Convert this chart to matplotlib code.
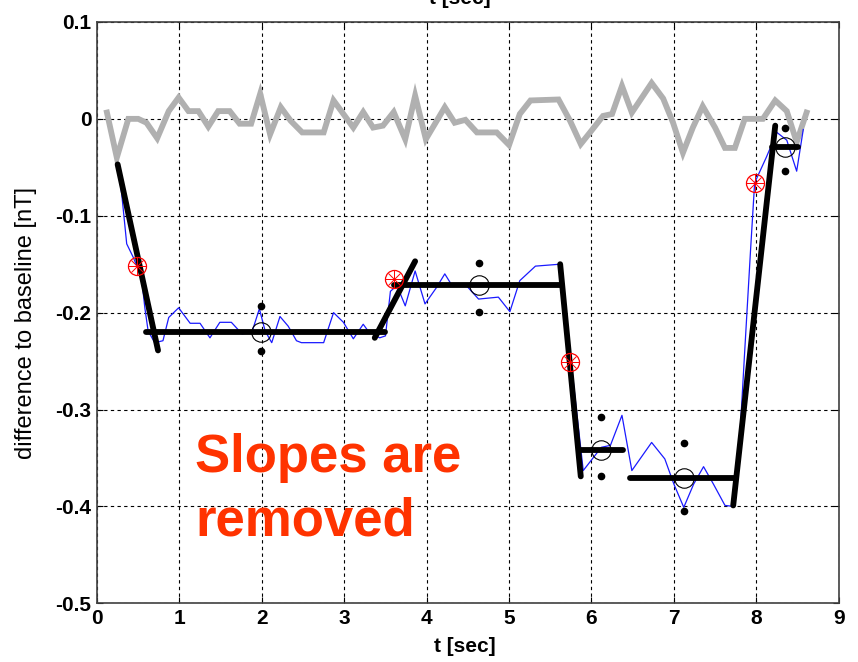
import numpy as np
import matplotlib
matplotlib.use("Agg")
import matplotlib.pyplot as plt

# raw (gray) signal
raw_t = [0.12, 0.24, 0.38, 0.5, 0.6, 0.73, 0.87, 0.99, 1.11, 1.23, 1.35, 1.47, 1.61, 1.73, 1.87,
         1.98, 2.1, 2.23, 2.35, 2.49, 2.62, 2.75, 2.87, 2.99, 3.11, 3.23, 3.35, 3.47, 3.6, 3.74,
         3.86, 3.99, 4.22, 4.34, 4.47, 4.61, 4.85, 5.0, 5.13, 5.26, 5.6, 5.74, 5.87, 6.02, 6.14,
         6.25, 6.37, 6.49, 6.73, 6.87, 6.99, 7.11, 7.23, 7.35, 7.5, 7.62, 7.74, 7.86, 8.08, 8.23,
         8.37, 8.49, 8.61]
raw_y = [0.0065, -0.04, 0, 0, -0.004, -0.02, 0.008, 0.022, 0.008, 0.008, -0.008, 0.008, 0.008,
         -0.005, -0.005, 0.026, -0.016, 0.012, -0.002, -0.014, -0.014, -0.014, 0.019, 0.005,
         -0.009, 0.007, -0.009, -0.007, 0.007, -0.021, 0.024, -0.021, 0.012, -0.004, -0.001,
         -0.014, -0.014, -0.027, 0.005, 0.019, 0.02, -0.002, -0.026, -0.010, 0.003, 0.005, 0.034,
         0.0065, 0.037, 0.021, -0.004, -0.035, -0.009, 0.013, -0.009, -0.030, -0.030, 0, 0,
         0.019, 0.008, -0.024, 0.0065]

# blue signal (with steps)
sig_t = [0.25, 0.30, 0.36, 0.44, 0.54, 0.58, 0.62, 0.70, 0.80, 0.87, 0.99, 1.13, 1.25, 1.37,
         1.49, 1.63, 1.76, 1.88, 1.97, 2.04, 2.12, 2.22, 2.32, 2.42, 2.48, 2.75, 2.87, 2.99,
         3.11, 3.23, 3.29, 3.43, 3.5, 3.56, 3.64, 3.74, 3.86, 3.98, 4.12, 4.22, 4.30, 4.47,
         4.63, 4.87, 5.01, 5.13, 5.32, 5.62, 5.90, 6.12, 6.23, 6.37, 6.49, 6.73, 6.89, 7.0,
         7.12, 7.24, 7.36, 7.48, 7.62, 7.72, 7.80, 7.86, 7.93, 7.98, 8.12, 8.25, 8.37, 8.49,
         8.57]
sig_y = [-0.047, -0.078, -0.129, -0.143, -0.164, -0.195, -0.219, -0.231, -0.229, -0.205,
         -0.195, -0.211, -0.211, -0.226, -0.210, -0.210, -0.222, -0.220, -0.196, -0.219,
         -0.231, -0.204, -0.214, -0.229, -0.231, -0.231, -0.200, -0.210, -0.227, -0.212,
         -0.219, -0.226, -0.224, -0.178, -0.172, -0.193, -0.157, -0.191, -0.174, -0.160,
         -0.171, -0.171, -0.186, -0.184, -0.199, -0.167, -0.152, -0.150, -0.363, -0.339,
         -0.337, -0.306, -0.363, -0.334, -0.351, -0.377, -0.401, -0.377, -0.359, -0.377,
         -0.399, -0.400, -0.329, -0.239, -0.136, -0.066, -0.040, -0.014, -0.022, -0.054,
         -0.011]

# fitted segments (slopes and levels)
seg_t = [(0.25, 0.74), (0.60, 3.50), (3.37, 3.86), (3.60, 5.62), (5.62, 5.87),
         (5.85, 6.38), (6.47, 7.74), (7.72, 8.23), (8.19, 8.51)]
seg_y = [(-0.047, -0.239), (-0.220, -0.220), (-0.226, -0.147), (-0.171, -0.171),
         (-0.150, -0.369), (-0.342, -0.342), (-0.371, -0.371), (-0.399, -0.007),
         (-0.029, -0.029)]

# slope midpoints (red)
mid_t = [0.48, 3.60, 5.74, 7.98]
mid_y = [-0.152, -0.165, -0.251, -0.066]

# level means with +/- spread
lev_t = [1.99, 4.63, 6.12, 7.12, 8.35]
lev_y = [-0.220, -0.171, -0.342, -0.371, -0.029]
lev_hi = [-0.193, -0.149, -0.308, -0.335, -0.009]
lev_lo = [-0.240, -0.199, -0.369, -0.405, -0.054]

xticks = [0, 1, 2, 3, 4, 5, 6, 7, 8, 9]
yticks = [0.1, 0, -0.1, -0.2, -0.3, -0.4, -0.5]
ylabels = ["0.1", "0", "-0.1", "-0.2", "-0.3", "-0.4", "-0.5"]

plt.rcParams['font.family'] = ['Liberation Sans', 'DejaVu Sans']

fig = plt.figure(figsize=(8.58, 6.62), dpi=100)
ax = fig.add_axes([0.1131, 0.0887, 0.8644, 0.8781])

ax.plot(raw_t, raw_y, color='#b0b0b0', lw=4.2, solid_joinstyle='miter', zorder=2)
ax.plot(sig_t, sig_y, color='#1a1aff', lw=0.9, zorder=3)
for st, sy in zip(seg_t, seg_y):
    ax.plot(st, sy, color='black', lw=4.2, solid_capstyle='round', zorder=4)

ax.plot(mid_t, mid_y, 'o', ms=13, mfc='none', mec='red', mew=0.9, zorder=5)
ax.plot(mid_t, mid_y, '+', ms=13, mec='red', mew=0.7, zorder=5)
ax.plot(mid_t, mid_y, 'x', ms=9, mec='red', mew=0.7, zorder=5)

ax.plot(lev_t, lev_y, 'o', ms=14, mfc='none', mec='black', mew=0.8, zorder=5)
ax.plot(lev_t, lev_hi, 'o', ms=4.5, color='black', zorder=5)
ax.plot(lev_t, lev_lo, 'o', ms=4.5, color='black', zorder=5)

ax.set_xlim(0, 9)
ax.set_ylim(-0.5, 0.1)
ax.set_xticks(xticks)
ax.set_yticks(yticks)
ax.set_yticklabels(ylabels)
for lab in ax.get_xticklabels() + ax.get_yticklabels():
    lab.set_fontweight('bold')
    lab.set_fontsize(15)
ax.tick_params(direction='in', length=4, width=0.8, top=True, right=True, pad=4)
ax.grid(True, color='black', linestyle=(0, (3, 3)), linewidth=0.8)
for sp in ax.spines.values():
    sp.set_color('#404040')
    sp.set_linewidth(1.2)

# axis labels placed as in the reference
fig.text(465 / 858, 1 - 646 / 662, "t [sec]", fontsize=15, fontweight='bold',
         ha='center', va='center')
fig.text(26 / 858, 1 - 323 / 662, "difference to baseline [nT]", fontsize=17,
         rotation=90, ha='center', va='center')

# label of the panel above, cut by the top edge
fig.text(0.536, 1.003, "t [sec]", fontsize=15, fontweight='bold', ha='center', va='center')

ax.text(1.19, -0.365, "Slopes are", color='#ff3300', fontsize=38,
        fontweight='bold', ha='left', va='baseline', zorder=6)
ax.text(1.19, -0.430, "removed", color='#ff3300', fontsize=38,
        fontweight='bold', ha='left', va='baseline', zorder=6)

fig.savefig("out.png", dpi=100)
